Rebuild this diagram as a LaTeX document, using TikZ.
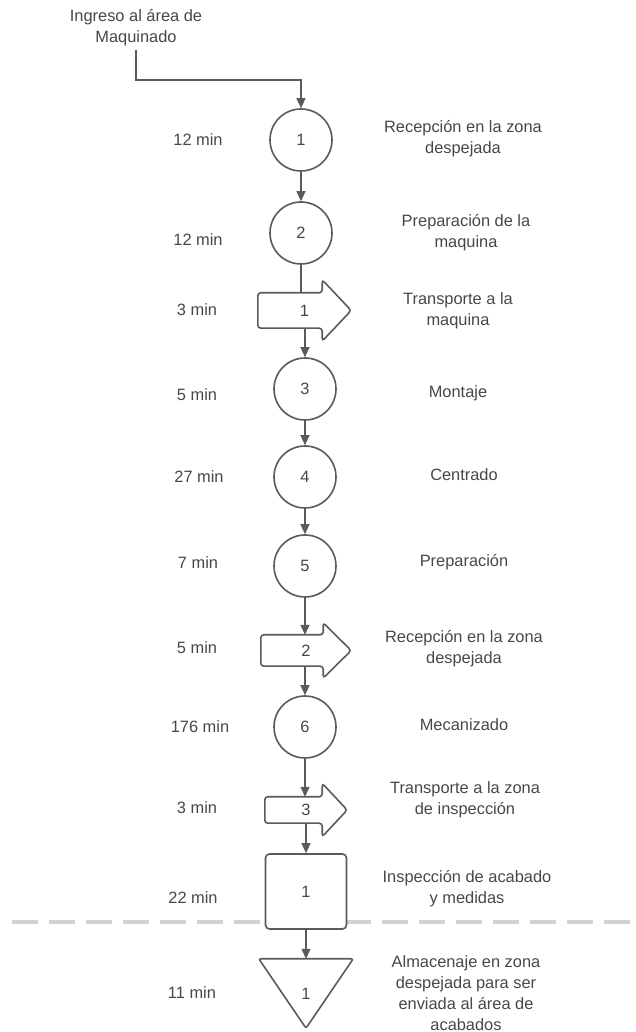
\documentclass[tikz,border=0pt]{standalone}
\usepackage{fontspec}
\setmainfont{Liberation Sans}
\usetikzlibrary{positioning, arrows.meta}
\definecolor{trazo}{HTML}{5A5A5A}
\definecolor{texto}{HTML}{474747}
\definecolor{guion}{HTML}{D2D2D2}

% contorno de una flecha de transporte sobre un nodo rectangular:
% #1 nodo, #2 largo de la punta, #3 lo que sale la punta del cuerpo
\newcommand{\transporte}[3]{%
  \draw[trazo, line width=1.6pt, rounded corners=3pt]
    (#1.north west) -- ([xshift=-#2]#1.north east) -- ([xshift=-#2, yshift=#3]#1.north east)
    -- (#1.east) -- ([xshift=-#2, yshift=-#3]#1.south east) -- ([xshift=-#2]#1.south east)
    -- (#1.south west) -- cycle;}

\begin{document}
\begin{tikzpicture}[x=1pt, y=1pt, font=\fontsize{16.4}{21}\selectfont, text=texto,
        oper/.style = {draw=trazo, line width=1.6pt, circle, minimum size=62pt, inner sep=0pt},
        transp/.style = {inner sep=0pt},
        insp/.style = {draw=trazo, line width=1.6pt, rounded corners=4pt, fill=white, inner sep=0pt},
        flujo/.style = {draw=trazo, line width=1.2pt, -{Triangle[length=10pt, width=9pt]}},
        desc/.style = {align=center}]
    \useasboundingbox (0,0) rectangle (636,1032);

    % linea que separa el almacenaje
    \draw[guion, line width=3.5pt, dash pattern=on 26pt off 11pt] (12,110) -- (636,110);

    \node[desc] (ini) at (136,1004) {Ingreso al área de\\Maquinado};
    \coordinate (codo) at (301,952);

    % simbolos del proceso
    \node[oper] (c1) at (301,892) {1};
    \node[oper] (c2) at (301,799) {2};
    \node[transp, minimum width=93pt, minimum height=35pt] (t1) at (304.5,721.5) {1};
    \node[oper] (c3) at (305,643) {3};
    \node[oper] (c4) at (305,555) {4};
    \node[oper] (c5) at (305,466) {5};
    \node[transp, minimum width=90pt, minimum height=31pt] (t2) at (306,381.5) {2};
    \node[oper] (c6) at (305,305) {6};
    \node[transp, minimum width=82pt, minimum height=26pt] (t3) at (306,222) {3};
    \node[insp, minimum width=81pt, minimum height=75pt] (i1) at (306,140.5) {1};
    \node[transp, minimum width=94pt, minimum height=69pt] (a1) at (306,38.5) {1};

    \transporte{t1}{29pt}{13pt}
    \transporte{t2}{28pt}{12pt}
    \transporte{t3}{25pt}{13.5pt}
    \draw[trazo, line width=1.6pt, rounded corners=2pt] (a1.north west) -- (a1.north east) -- (a1.south) -- cycle;

    % tiempos
    \node (m1) at (198,892) {12 min};
    \node (m2) at (198,792) {12 min};
    \node (m3) at (197,722) {3 min};
    \node (m4) at (197,637) {5 min};
    \node (m5) at (199,555) {27 min};
    \node (m6) at (198,469) {7 min};
    \node (m7) at (197,384) {5 min};
    \node (m8) at (200,305) {176 min};
    \node (m9) at (197,224) {3 min};
    \node (m10) at (193,134) {22 min};
    \node (m11) at (192,39) {11 min};

    % descripciones
    \node[desc] (d1) at (463,893) {Recepción en la zona\\despejada};
    \node[desc] (d2) at (466,799.5) {Preparación de la\\maquina};
    \node[desc] (d3) at (458,721.5) {Transporte a la\\maquina};
    \node[desc] (d4) at (458,639) {Montaje};
    \node[desc] (d5) at (464,557) {Centrado};
    \node[desc] (d6) at (464,470) {Preparación};
    \node[desc] (d7) at (464,383) {Recepción en la zona\\despejada};
    \node[desc] (d8) at (464,307) {Mecanizado};
    \node[desc] (d9) at (465,232.5) {Transporte a la zona\\de inspección};
    \node[desc] (d10) at (467,143) {Inspección de acabado\\y medidas};
    \node[desc] (d11) at (466,39) {Almacenaje en zona\\despejada para ser\\enviada al área de\\acabados};

    % flujo
    \draw[flujo] (ini.south) |- (codo) -- (c1);
    \draw[flujo] (c1) -- (c2);
    \draw[trazo, line width=1.2pt] (c2) -- (c2 |- t1.north);
    \draw[flujo] (c3 |- t1.south) -- (c3);
    \draw[flujo] (c3) -- (c4);
    \draw[flujo] (c4) -- (c5);
    \draw[flujo] (c5) -- (c5 |- t2.north);
    \draw[flujo] (c6 |- t2.south) -- (c6);
    \draw[flujo] (c6) -- (c6 |- t3.north);
    \draw[flujo] (t3.south) -- (i1);
    \draw[flujo] (i1) -- (a1.north);
\end{tikzpicture}
\end{document}
